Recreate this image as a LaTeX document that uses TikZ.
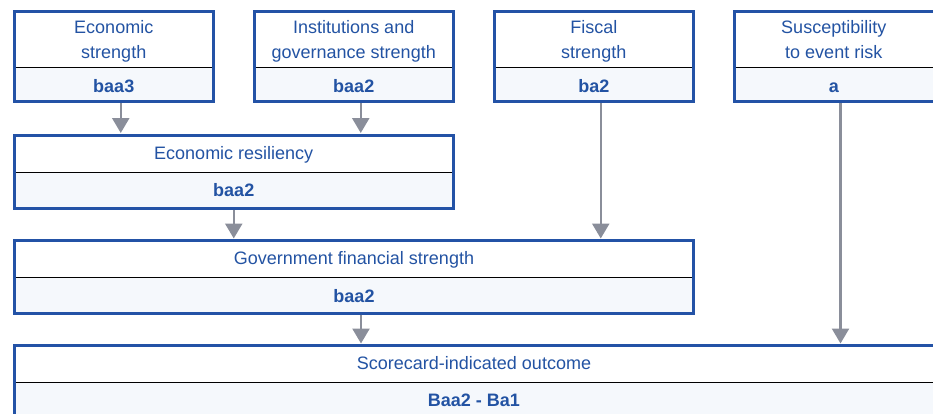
\documentclass[tikz,border=0pt]{standalone}
\usepackage{fontspec}
\setmainfont{Liberation Sans}
\usetikzlibrary{arrows.meta,fit}

\definecolor{frameblue}{HTML}{2352A6}
\definecolor{textblue}{HTML}{2353A3}
\definecolor{valbg}{HTML}{F5F8FC}
\definecolor{arrowgray}{HTML}{8A8E9A}

\tikzset{
  part/.style={inner sep=0pt, outer sep=0pt, anchor=north west, draw=none},
  titlepart/.style={part, fill=white},
  valuepart/.style={part, fill=valbg},
  frame/.style={draw=frameblue, line width=3pt, inner sep=0pt, outer sep=0pt, fit=#1},
  divider/.style={draw=black, line width=1pt},
  txt/.style={font=\fontsize{18}{22}\selectfont, text=textblue, inner sep=0pt, anchor=base},
  val/.style={txt, font=\fontsize{18}{22}\selectfont\bfseries},
  flow/.style={draw=arrowgray, line width=2.5pt, shorten <=1.5pt, shorten >=2pt,
    -{Triangle[length=15pt,width=17pt]}},
}

% #1 name, #2 left, #3 top, #4 width, #5 title height, #6 rating height
\newcommand\scorepanel[6]{%
  \node[titlepart, minimum width=#4pt, minimum height=#5pt] (#1T) at (#2,#3) {};
  \node[valuepart, minimum width=#4pt, minimum height=#6pt] (#1V) at (#1T.south west) {};
  \draw[divider] (#1T.south west) -- (#1T.south east);
  \node[frame={(#1T)(#1V)}] (#1) {};
}

\begin{document}
\begin{tikzpicture}[x=1pt, y=-1pt]
  \useasboundingbox (0,0) rectangle (933,413);
  \clip (0,0) rectangle (933,413);

  % factor panels
  \scorepanel{eco}{14.5}{11.5}{198.5}{55.5}{34.5}
  \scorepanel{inst}{254.5}{11.5}{198.5}{55.5}{34.5}
  \scorepanel{fisc}{494.5}{11.5}{198.5}{55.5}{34.5}
  \scorepanel{susc}{734.5}{11.5}{202}{55.5}{34.5}

  % aggregate panels
  \scorepanel{res}{14.5}{135}{438.5}{37.3}{36.2}
  \scorepanel{gfs}{14.5}{240.5}{679}{36.8}{35.7}
  \scorepanel{out}{14.5}{345.5}{922.5}{36.8}{37.7}

  % labels
  \node[txt] (ecoL1) at (113.75,33.8) {Economic};
  \node[txt] (ecoL2) at (113.75,58) {strength};
  \node[val] (ecoR) at (113.75,92.7) {baa3};

  \node[txt] (instL1) at (353.75,33.8) {Institutions and};
  \node[txt] (instL2) at (353.75,58) {governance strength};
  \node[val] (instR) at (353.75,92.7) {baa2};

  \node[txt] (fiscL1) at (593.75,33.8) {Fiscal};
  \node[txt] (fiscL2) at (593.75,58) {strength};
  \node[val] (fiscR) at (593.75,92.7) {ba2};

  \node[txt] (suscL1) at (833.75,33.8) {Susceptibility};
  \node[txt] (suscL2) at (833.75,58) {to event risk};
  \node[val] (suscR) at (833.75,92.7) {a};

  \node[txt] (resL) at (233.75,159.3) {Economic resiliency};
  \node[val] (resR) at (233.75,196.7) {baa2};

  \node[txt] (gfsL) at (354,264.5) {Government financial strength};
  \node[val] (gfsR) at (354,302) {baa2};

  \node[txt] (outL) at (474,369.3) {Scorecard-indicated outcome};
  \node[val] (outR) at (474,406) {Baa2 - Ba1};

  % connectors
  \draw[flow] ([xshift=7pt]eco.south) -- ([xshift=7pt]eco.south |- res.north);
  \draw[flow] ([xshift=7pt]inst.south) -- ([xshift=7pt]inst.south |- res.north);
  \draw[flow] (res.south) -- (res.south |- gfs.north);
  \draw[flow] ([xshift=7pt]fisc.south) -- ([xshift=7pt]fisc.south |- gfs.north);
  \draw[flow] ([xshift=7pt]gfs.south) -- ([xshift=7pt]gfs.south |- out.north);
  \draw[flow] ([xshift=5pt]susc.south) -- ([xshift=5pt]susc.south |- out.north);
\end{tikzpicture}
\end{document}
